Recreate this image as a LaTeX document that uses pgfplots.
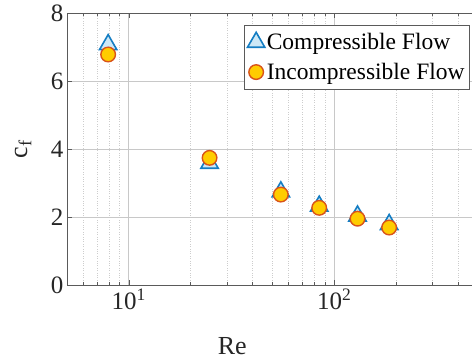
\documentclass[border=0pt]{standalone}
\usepackage{pgfplots}
\pgfplotsset{compat=1.18}
\usepackage{fontspec}
\setmainfont{Liberation Serif}
\definecolor{triedge}{RGB}{20,125,195}
\definecolor{trifill}{RGB}{205,232,246}
\definecolor{circedge}{RGB}{217,83,25}
\definecolor{circfill}{RGB}{255,204,0}
\definecolor{gridmaj}{RGB}{200,200,200}
\definecolor{gridmin}{RGB}{205,205,205}
\definecolor{axcol}{RGB}{90,90,90}
\begin{document}
\begin{tikzpicture}
\path[use as bounding box] (-67pt,-75pt) rectangle (405pt,285pt);
\begin{axis}[
  at={(0pt,0pt)}, anchor=south west,
  scale only axis, width=411pt, height=272pt,
  xmode=log, xmin=5, xmax=500, ymin=0, ymax=8,
  xtick={10,100}, xticklabels={10\textsuperscript{1},10\textsuperscript{2}},
  minor xtick={5,6,7,8,9,20,30,40,50,60,70,80,90,200,300,400,500},
  ytick={0,2,4,6,8}, yticklabels={0,2,4,6,8},
  tick align=inside, major tick length=5pt, minor tick length=3pt,
  tick style={axcol, line width=0.6pt},
  axis line style={axcol, line width=0.8pt},
  xmajorgrids, ymajorgrids, xminorgrids,
  major grid style={gridmaj, line width=0.8pt},
  minor grid style={gridmin, dotted, line width=0.6pt},
  ticklabel style={font=\fontsize{25}{28}\selectfont, text=black!85},
  xlabel={Re}, ylabel={c\textsubscript{f}},
  label style={font=\fontsize{26}{29}\selectfont, text=black!85},
  xlabel style={at={(axis description cs:0.402,-0.257)}, anchor=base},
  ylabel style={at={(axis description cs:-0.097,0.5)}, anchor=base},
  legend style={at={(axis description cs:0.9805,0.956)}, anchor=north east,
    font=\fontsize{23.5}{26}\selectfont, draw=axcol, line width=0.8pt,
    inner xsep=3pt, inner ysep=6pt, row sep=8pt, cells={anchor=west}},
  legend image code/.code={\draw[#1] plot coordinates {(0.33cm,0cm)};},
]
\addplot[only marks, mark=triangle*, mark size=10pt,
  mark options={draw=triedge, fill=trifill, line width=1.6pt}]
  coordinates {(7.93,7.07) (24.7,3.58) (54.9,2.74) (84.4,2.32) (129.6,2.03) (184.8,1.78)};
\addlegendentry{Compressible Flow}
\addplot[only marks, mark=*, mark size=7.3pt,
  mark options={draw=circedge, fill=circfill, line width=1.4pt}]
  coordinates {(7.93,6.78) (24.7,3.74) (54.9,2.66) (84.4,2.27) (129.6,1.95) (184.8,1.69)};
\addlegendentry{Incompressible Flow}
\end{axis}
\end{tikzpicture}
\end{document}
